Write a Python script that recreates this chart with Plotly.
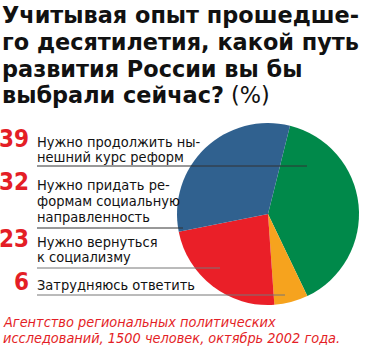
import plotly.graph_objects as go

# data
categories = ["Нужно продолжить нынешний курс реформ",
              "Затрудняюсь ответить",
              "Нужно вернуться к социализму",
              "Нужно придать реформам социальную направленность"]
values = [39, 6, 23, 32]
colors = ["#00894A", "#F6A31E", "#EA1F28", "#30618F"]

label_values = [39, 32, 23, 6]
label_lines = [["Нужно продолжить ны-", "нешний курс реформ"],
               ["Нужно придать ре-", "формам социальную", "направленность"],
               ["Нужно вернуться", "к социализму"],
               ["Затрудняюсь ответить"]]
title_lines = ["Учитывая опыт прошедше-",
               "го десятилетия, какой путь",
               "развития России вы бы",
               "выбрали сейчас?"]
footer_lines = ["Агентство региональных политических",
                "исследований, 1500 человек, октябрь 2002 года."]

W, H = 367, 354
cx, cy, r = 268, 214, 91
COND = "DejaVu Sans Condensed, Liberation Sans Narrow, Roboto, sans-serif"

fig = go.Figure(go.Pie(
    values=values, labels=categories, marker=dict(colors=colors, line=dict(width=0)),
    sort=False, direction="clockwise", rotation=14, textinfo="none", hoverinfo="skip",
    domain=dict(x=[(cx - r) / W, (cx + r) / W], y=[1 - (cy + r) / H, 1 - (cy - r) / H]),
    showlegend=False))

def px(x):
    return x / W

def py(y):
    return 1 - y / H

ann = []

def text_at(x, baseline, txt, size, family, color, anchor="left"):
    ann.append(dict(x=px(x), y=py(baseline - 0.35 * size), xref="paper", yref="paper",
                    xanchor=anchor, yanchor="middle", text=txt, showarrow=False,
                    font=dict(family=family, size=size, color=color)))

title_base = [23, 50, 77, 103]
for i, t in enumerate(title_lines):
    txt = "<b>" + t + "</b>"
    if i == 3:
        txt += " <span style='font-weight:normal'>(%)</span>"
    text_at(0, title_base[i], txt, 22.4, "DejaVu Sans", "#111")

label_base = [[147, 162], [190, 206, 222], [247, 262], [290]]
line_y = [166, 228, 268, 295]
line_end = [307, 183, 220, 285]
line_col = ["#333", "#333", "#777", "#777"]
for i, v in enumerate(label_values):
    text_at(31, label_base[i][0], "<b>%d</b>" % v, 24, COND, "#E41E26", anchor="right")
    for j, ln in enumerate(label_lines[i]):
        text_at(35, label_base[i][j], ln, 14.5, COND, "#111")

footer_base = [327, 343]
for j, ln in enumerate(footer_lines):
    text_at(1, footer_base[j], "<i>" + ln + "</i>", 14.4, COND, "#E41E26")

shapes = []
for i in range(4):
    shapes.append(dict(type="line", xref="paper", yref="paper", x0=px(37), x1=px(line_end[i]),
                       y0=py(line_y[i]), y1=py(line_y[i]), line=dict(color=line_col[i], width=1)))

fig.update_layout(width=W, height=H, margin=dict(l=0, r=0, t=0, b=0),
                  paper_bgcolor="white", plot_bgcolor="white",
                  annotations=ann, shapes=shapes)
fig.write_html("out.html")
